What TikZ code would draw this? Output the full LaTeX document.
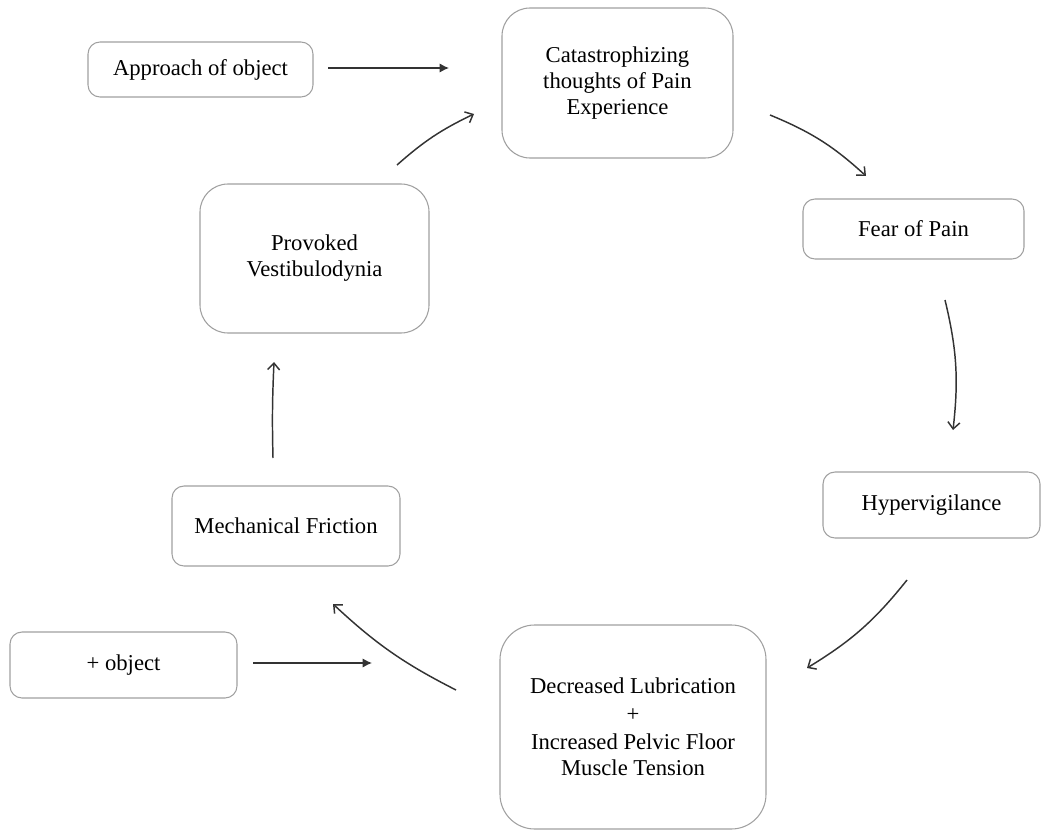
\documentclass[tikz,border=0pt]{standalone}
\usepackage{fontspec}
\setmainfont{Liberation Serif}
\usepackage{tikz}
\usetikzlibrary{arrows.meta}
\usetikzlibrary{positioning}
\definecolor{boxgray}{HTML}{A0A0A0}
\definecolor{inkgray}{HTML}{333333}

\begin{document}
\begin{tikzpicture}[x=0.75pt,y=-0.75pt,line width=0.8pt,
    stepbox/.style={draw=boxgray,rounded corners=9pt,align=center,inner sep=0pt,
      text=black,font=\fontsize{17}{19.5}\selectfont},
    bigbox/.style={stepbox,rounded corners=21pt},
    push/.style={draw=inkgray,line width=1.1pt,-{Latex[length=7pt,width=7pt]}},
    cycle/.style={draw=inkgray,line width=1.1pt,-{Straight Barb[length=5pt,width=9pt]},bend left=#1},
    cycle/.default=10]
  \useasboundingbox (0,0) rectangle (1045,831);

  % boxes
  \node[stepbox,minimum width=168.75pt,minimum height=41.25pt](approach) at (200.5,69.5) {Approach of object};
  \node[bigbox,minimum width=173.25pt,minimum height=112.5pt](catas) at (617.5,83) {Catastrophizing\\thoughts of Pain\\Experience};
  \node[stepbox,minimum width=165.75pt,minimum height=45pt](fear) at (913.5,229) {Fear of Pain};
  \node[stepbox,minimum width=162.75pt,minimum height=49.5pt](hyper) at (931.5,505) {Hypervigilance};
  \node[bigbox,rounded corners=26pt,minimum width=199.5pt,minimum height=153pt](tension) at (633,727)
    {Decreased Lubrication\\[1.5pt]+\\[1.5pt]Increased Pelvic Floor\\Muscle Tension};
  \node[stepbox,minimum width=171pt,minimum height=60pt](friction) at (286,526) {Mechanical Friction};
  \node[stepbox,minimum width=170.25pt,minimum height=49.5pt](plusobj) at (123.5,665) {+ object};
  \node[bigbox,minimum width=171.75pt,minimum height=111.75pt](provoked) at (314.5,258.5) {Provoked\\Vestibulodynia};

  % arrow ends
  \coordinate (p1) at (328,68);  \coordinate (p2) at (449,68);
  \coordinate (p3) at (253,663); \coordinate (p4) at (372,663);
  \coordinate (c1) at (770,115); \coordinate (c2) at (866,176);
  \coordinate (c3) at (945,300); \coordinate (c4) at (953,430);
  \coordinate (c5) at (907,580); \coordinate (c6) at (807,668);
  \coordinate (c7) at (456,690); \coordinate (c8) at (333,604);
  \coordinate (c9) at (273,458); \coordinate (c10) at (274,362);
  \coordinate (c11) at (397,165); \coordinate (c12) at (474,114);

  \draw[push] (p1) -- (p2);
  \draw[push] (p3) -- (p4);
  \draw[cycle] (c1) to (c2);
  \draw[cycle] (c3) to (c4);
  \draw[cycle] (c5) to (c6);
  \draw[cycle=8] (c7) to (c8);
  \draw[cycle=2] (c9) to (c10);
  \draw[cycle=8] (c11) to (c12);
\end{tikzpicture}
\end{document}
